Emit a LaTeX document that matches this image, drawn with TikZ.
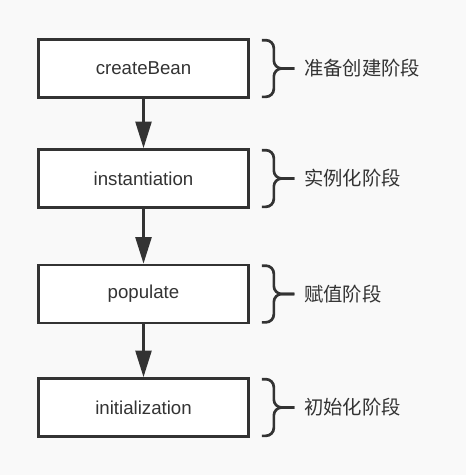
\documentclass[tikz,border=0pt]{standalone}
\usepackage{fontspec}
\setmainfont{Liberation Sans}
\newfontfamily\cjk{Noto Sans CJK SC}
\usetikzlibrary{arrows.meta,calc}
\definecolor{ink}{HTML}{333333}
\definecolor{bg}{HTML}{F9F9F9}
\tikzset{
  stagebox/.style={draw=ink,line width=2pt,fill=white,minimum width=157.5pt,minimum height=43.5pt,inner sep=0pt,font=\fontsize{14pt}{16pt}\selectfont,text=ink},
  flowarrow/.style={draw=ink,line width=2pt,-{Triangle[length=20pt,width=12pt]}},
  bracepath/.style={draw=ink,line width=2pt,rounded corners=6pt},
  stagelabel/.style={anchor=west,inner sep=0pt,font=\cjk\fontsize{14.5pt}{16pt}\selectfont,text=ink}
}
\newcommand\stagebrace[2]{%
  \coordinate (#1-t) at ($(#1.north east)+(12,2)$);
  \coordinate (#1-b) at ($(#1.south east)+(12,-2)$);
  \coordinate (#1-m) at ($(#1.east)+(44.5,0)$);
  \draw[bracepath] (#1-t) -- ++(12,0) |- (#1-m);
  \draw[bracepath] (#1-b) -- ++(12,0) |- (#1-m);
  \node[stagelabel] (#1-lab) at ($(#1.east)+(54,0)$) {#2};
}
\begin{document}
\begin{tikzpicture}[x=0.75pt,y=-0.75pt]
\fill[bg] (0,0) rectangle (466,475);
\useasboundingbox (0,0) rectangle (466,475);
\node[stagebox] (b1) at (143.5,68.5) {createBean};
\node[stagebox] (b2) at (143.5,178.5) {instantiation};
\node[stagebox] (b3) at (143.5,294) {populate};
\node[stagebox] (b4) at (143.5,407.5) {initialization};
\draw[flowarrow] (b1) -- (b2);
\draw[flowarrow] (b2) -- (b3);
\draw[flowarrow] (b3) -- (b4);
\stagebrace{b1}{准备创建阶段}
\stagebrace{b2}{实例化阶段}
\stagebrace{b3}{赋值阶段}
\stagebrace{b4}{初始化阶段}
\end{tikzpicture}
\end{document}
